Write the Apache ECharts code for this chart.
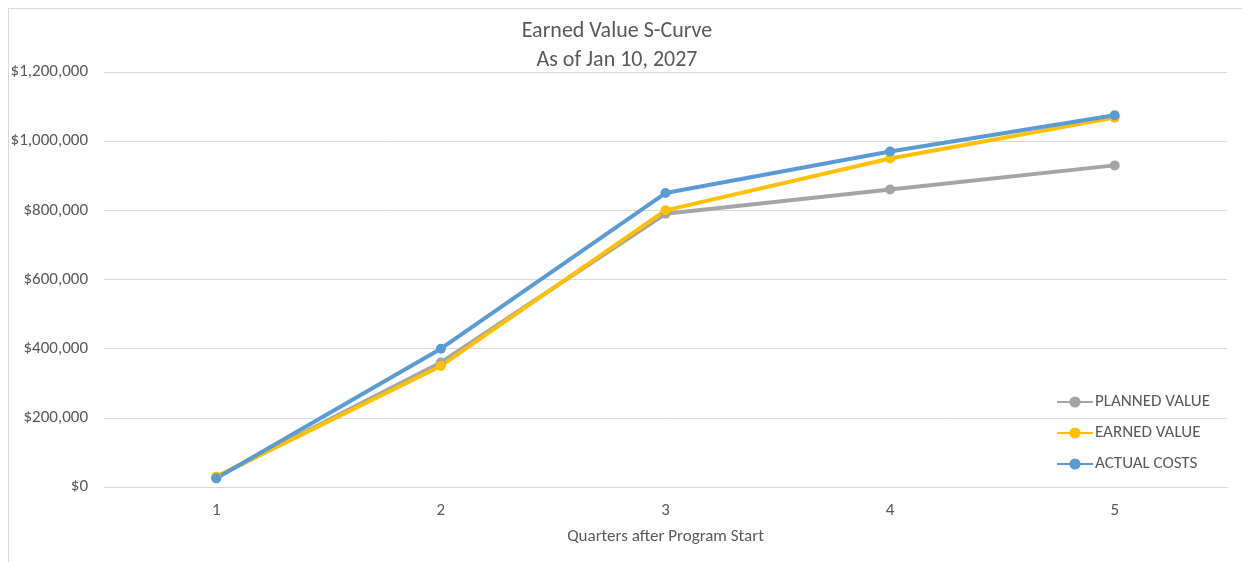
<!DOCTYPE html>
<html>
<head>
<meta charset="utf-8">
<title>Earned Value S-Curve</title>
<script src="https://cdn.jsdelivr.net/npm/echarts@6/dist/echarts.min.js"></script>
<style>
html, body { margin: 0; padding: 0; background: #fff; }
#wrap { position: relative; width: 1242px; height: 562px; overflow: hidden; }
#frame { position: absolute; left: 8px; top: 8px; width: 1300px; height: 600px;
  border-left: 1px solid #d9d9d9; border-top: 1px solid #d9d9d9; }
#chart { position: absolute; left: 0; top: 0; width: 1242px; height: 562px; }
</style>
</head>
<body>
<div id="wrap">
  <div id="frame"></div>
  <div id="chart"></div>
</div>
<script>
// data
var quarters = ['1', '2', '3', '4', '5'];
var plannedValue = [28000, 360000, 790000, 860000, 930000];
var earnedValue = [30000, 350000, 800000, 950000, 1068000];
var actualCosts = [25000, 400000, 850000, 970000, 1075000];

var txt = '#595959';
var font = "Calibri, Carlito, Lato, 'Open Sans', sans-serif";

function money(v) {
  return '$' + v.toString().replace(/\B(?=(\d{3})+(?!\d))/g, ',');
}

var myChart = echarts.init(document.getElementById('chart'));
var option = {
  animation: false,
  textStyle: { fontFamily: font },
  title: {
    text: 'Earned Value S-Curve\nAs of Jan 10, 2027',
    left: 612,
    top: 12,
    textAlign: 'center',
    textStyle: { color: txt, fontSize: 22, fontWeight: 'normal', lineHeight: 29, fontFamily: font }
  },
  grid: { left: 104, right: 15, top: 72, bottom: 75 },
  legend: {
    orient: 'vertical',
    left: 1051,
    top: 388,
    itemGap: 13,
    itemWidth: 36,
    itemHeight: 14,
    textStyle: { color: txt, fontSize: 17, lineHeight: 18, padding: [0, 0, 0, -3], fontFamily: font },
    data: ['PLANNED VALUE', 'EARNED VALUE', 'ACTUAL COSTS']
  },
  xAxis: {
    type: 'category',
    data: quarters,
    boundaryGap: true,
    name: 'Quarters after Program Start',
    nameLocation: 'middle',
    nameGap: 41,
    nameTextStyle: { color: txt, fontSize: 17, fontFamily: font },
    axisLine: { lineStyle: { color: '#d9d9d9', width: 1 } },
    axisTick: { show: false },
    axisLabel: { color: txt, fontSize: 17, margin: 15, fontFamily: font }
  },
  yAxis: {
    type: 'value',
    min: 0,
    max: 1200000,
    interval: 200000,
    axisLine: { show: false },
    axisTick: { show: false },
    axisLabel: { color: txt, fontSize: 17, margin: 16, formatter: money, fontFamily: font },
    splitLine: { lineStyle: { color: '#d9d9d9', width: 1 } }
  },
  series: [
    {
      name: 'PLANNED VALUE', type: 'line', data: plannedValue,
      symbol: 'circle', symbolSize: 10,
      lineStyle: { color: '#A5A5A5', width: 4 },
      itemStyle: { color: '#A5A5A5' }
    },
    {
      name: 'EARNED VALUE', type: 'line', data: earnedValue,
      symbol: 'circle', symbolSize: 10,
      lineStyle: { color: '#FFC000', width: 4 },
      itemStyle: { color: '#FFC000' }
    },
    {
      name: 'ACTUAL COSTS', type: 'line', data: actualCosts,
      symbol: 'circle', symbolSize: 10,
      lineStyle: { color: '#5B9BD5', width: 4 },
      itemStyle: { color: '#5B9BD5' }
    }
  ]
};
myChart.setOption(option);
</script>
</body>
</html>
